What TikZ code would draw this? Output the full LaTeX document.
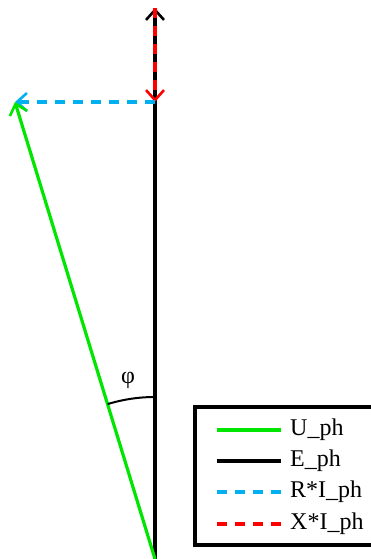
\documentclass[tikz,border=0pt]{standalone}
\usepackage{fontspec}
\setmainfont{Liberation Serif}
\usetikzlibrary{arrows.meta}
\definecolor{ugreen}{RGB}{0,230,0}
\definecolor{rblue}{RGB}{0,176,240}
\definecolor{xred}{RGB}{255,0,0}
\tikzset{
  vec/.style={line width=3.2pt,-{Straight Barb[length=10pt,width=18pt,line width=2.6pt]}},
  dsh/.style={dash pattern=on 10pt off 8pt},
  lgline/.style={line width=3.2pt},
  lgtext/.style={anchor=west,font=\fontsize{24}{26}\selectfont,inner sep=0pt}
}
\begin{document}
\begin{tikzpicture}[x=1pt,y=1pt]
\useasboundingbox (0,0) rectangle (371,-559);
\coordinate (O) at (155,-559);
\coordinate (T) at (155,-8);
\coordinate (P) at (155,-102);
\coordinate (L) at (15,-102);
% E_ph
\draw[vec,black] (O) -- (T);
% X*I_ph
\draw[vec,xred,dsh] (T) -- (P);
% R*I_ph
\draw[vec,rblue,dsh] (P) -- (L);
% U_ph
\draw[vec,ugreen] (O) -- (L);
% angle
\draw[line width=2pt] ([shift={(90:162)}]O) arc[start angle=90,end angle=107,radius=162];
\node[font=\fontsize{24}{26}\selectfont] (phi) at (128,-380) {φ};
% legend
\draw[line width=3.6pt,fill=white] (195,-407) rectangle (375,-545);
\coordinate (a1) at (217,-430); \coordinate (b1) at (281,-430);
\coordinate (a2) at (217,-461); \coordinate (b2) at (281,-461);
\coordinate (a3) at (217,-492); \coordinate (b3) at (281,-492);
\coordinate (a4) at (217,-524); \coordinate (b4) at (281,-524);
\draw[lgline,ugreen] (a1) -- (b1);
\draw[lgline,black] (a2) -- (b2);
\draw[lgline,rblue,dsh] (a3) -- (b3);
\draw[lgline,xred,dsh] (a4) -- (b4);
\node[lgtext] (t1) at (290,-430) {U\_ph};
\node[lgtext] (t2) at (290,-461) {E\_ph};
\node[lgtext] (t3) at (290,-492) {R*I\_ph};
\node[lgtext] (t4) at (290,-524) {X*I\_ph};
\end{tikzpicture}
\end{document}
